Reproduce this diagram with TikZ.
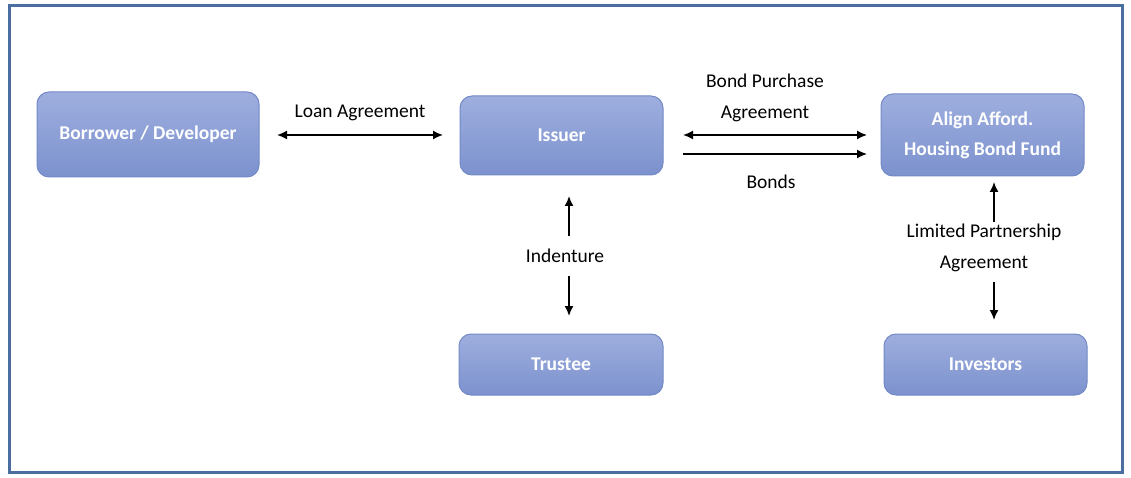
\documentclass[tikz,border=0pt]{standalone}
\usepackage{fontspec}
\setmainfont{Carlito}
\usetikzlibrary{arrows.meta}
\definecolor{frameblue}{RGB}{74,110,160}
\definecolor{boxtop}{RGB}{158,174,222}
\definecolor{boxbot}{RGB}{124,146,206}
\definecolor{boxedge}{RGB}{116,138,198}
\begin{document}
\begin{tikzpicture}[x=1pt,y=-1pt,
  entity/.style={draw=boxedge, line width=1pt, rounded corners=12pt,
    top color=boxtop, bottom color=boxbot, text=white,
    font=\fontsize{19.5}{30}\selectfont\bfseries, align=center,
    inner sep=0pt},
  lbl/.style={font=\fontsize{19.5}{31}\selectfont, align=center, inner sep=1pt},
  conn/.style={line width=1.6pt, -{Latex[length=10pt,width=9pt]}},
  bconn/.style={line width=1.6pt, {Latex[length=10pt,width=9pt]}-{Latex[length=10pt,width=9pt]}}
]
\useasboundingbox (0,0) rectangle (1131,478);
\fill[white] (0,0) rectangle (1131,478);
\draw[frameblue, line width=3pt] (9,6) rectangle (1122,472);

\node[entity, minimum width=222pt, minimum height=85pt] (borrower) at (148,134.5) {Borrower / Developer};
\node[entity, minimum width=203pt, minimum height=79pt] (issuer) at (561.5,135.5) {Issuer};
\node[entity, minimum width=203pt, minimum height=82pt] (fund) at (982.5,135) {Align Afford.\\Housing Bond Fund};
\node[entity, minimum width=204pt, minimum height=61pt] (trustee) at (561,364.5) {Trustee};
\node[entity, minimum width=203pt, minimum height=61pt] (investors) at (985.5,364.5) {Investors};

% Loan agreement
\coordinate (la1) at (277,135);
\coordinate (la2) at (443,135);
\draw[bconn] (la1) -- (la2);
\node[lbl] (lalbl) at (360,113) {Loan Agreement};

% Bond purchase agreement
\coordinate (bp1) at (683,135);
\coordinate (bp2) at (867,135);
\draw[bconn] (bp1) -- (bp2);
\node[lbl] (bplbl) at (765,98) {Bond Purchase\\Agreement};

% Bonds
\coordinate (bo1) at (683,154);
\coordinate (bo2) at (867,154);
\draw[conn] (bo1) -- (bo2);
\node[lbl] (bolbl) at (771,182) {Bonds};

% Indenture
\node[lbl] (indlbl) at (565,256) {Indenture};
\coordinate (in1) at (569,236);
\coordinate (in2) at (569,196);
\coordinate (in3) at (569,276);
\coordinate (in4) at (569,316);
\draw[conn] (in1) -- (in2);
\draw[conn] (in3) -- (in4);

% Limited partnership
\node[lbl] (lplbl) at (984,248) {Limited Partnership\\Agreement};
\coordinate (lp1) at (994,222);
\coordinate (lp2) at (994,182);
\coordinate (lp3) at (994,282);
\coordinate (lp4) at (994,320);
\draw[conn] (lp1) -- (lp2);
\draw[conn] (lp3) -- (lp4);
\end{tikzpicture}
\end{document}
